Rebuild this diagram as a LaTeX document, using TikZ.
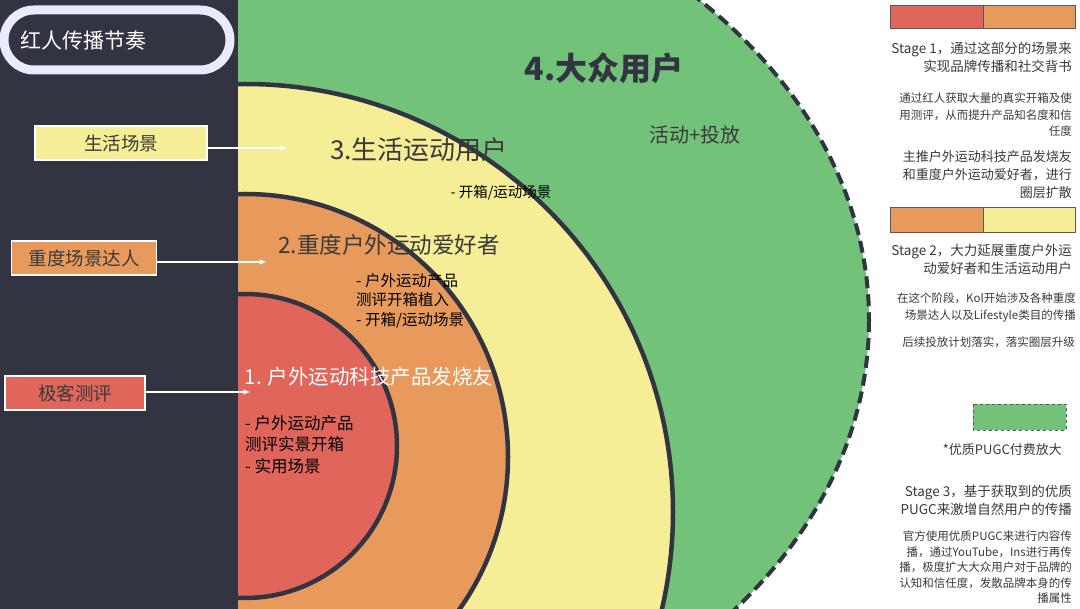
\documentclass[tikz,border=0pt]{standalone}
\usepackage{fontspec}
\usetikzlibrary{arrows.meta}
\setmainfont{Noto Sans CJK SC}
\definecolor{cred}{HTML}{E0655A}
\definecolor{corange}{HTML}{E89A5C}
\definecolor{cyellow}{HTML}{F5EE96}
\definecolor{cgreen}{HTML}{72C27A}
\definecolor{cdark}{HTML}{323541}
\definecolor{ctext}{HTML}{3A3A3A}
\begin{document}
\begin{tikzpicture}[x=1pt,y=-1pt,
  ring/.style={draw=cdark,line width=4.5pt},
  lbl/.style={draw=white,line width=1.5pt,minimum height=34pt,font=\fontsize{18.5}{20}\selectfont,text=ctext,inner sep=0pt},
  arr/.style={white,line width=1.5pt,-{Stealth[length=7pt]}},
  rtxt/.style={align=right,anchor=north east,text=ctext,inner sep=0pt},
  bar/.style={draw=gray!70!black,line width=0.8pt}]
\useasboundingbox (0,0) rectangle (1080,609);
\fill[white] (0,0) rectangle (1080,609);
\begin{scope}
\clip (238,0) rectangle (1080,609);
\fill[cgreen] (245,320) ellipse [x radius=624,y radius=467];
\draw[cdark,line width=4pt,dash pattern=on 12pt off 6pt] (245,320) ellipse [x radius=624,y radius=467];
\filldraw[fill=cyellow,ring] (245,512) circle [radius=428];
\filldraw[fill=corange,ring] (245,457) circle [radius=263];
\filldraw[fill=cred,ring] (245,446) circle [radius=152];
\end{scope}
\fill[cdark] (0,0) rectangle (238,609);
% title
\draw[white!92!blue,line width=9pt,rounded corners=30pt] (4,10) rectangle (230,70);
\node[fill=cdark,rounded corners=13pt,minimum width=206pt,minimum height=38pt,draw=cdark] (title) at (117,40) {};
\node[text=white,font=\fontsize{21}{24}\selectfont,anchor=west] (tt) at (17,41) {红人传播节奏};
% side labels
\node[lbl,fill=cyellow,minimum width=172pt] (l3) at (121,143) {生活场景};
\node[lbl,fill=corange,minimum width=145pt] (l2) at (84,258) {重度场景达人};
\node[lbl,fill=cred,minimum width=140pt] (l1) at (75,393) {极客测评};
\coordinate (a3) at (287,148);
\coordinate (a2) at (266,262);
\coordinate (a1) at (250,392);
\draw[arr] (l3.east|-a3) -- (a3);
\draw[arr] (l2.east|-a2) -- (a2);
\draw[arr] (l1.east|-a1) -- (a1);
% circle texts
\node[text=cdark,font=\fontsize{32}{34}\selectfont\bfseries] (t4) at (604,68) {4.大众用户};
\node[text=ctext,font=\fontsize{20}{22}\selectfont] (t4b) at (695,135) {活动+投放};
\node[text=ctext,font=\fontsize{26}{28}\selectfont] (t3) at (419,150) {3.生活运动用户};
\node[text=black,font=\fontsize{14.5}{16}\selectfont] (t3b) at (501,193) {- 开箱/运动场景};
\node[text=ctext,font=\fontsize{22.5}{24}\selectfont] (t2) at (389,245) {2.重度户外运动爱好者};
\node[text=black,font=\fontsize{15.5}{19.5}\selectfont,align=left,anchor=north west,inner sep=0pt] (t2b) at (356,273) {- 户外运动产品\\测评开箱植入\\- 开箱/运动场景};
\node[text=white,font=\fontsize{20.5}{22}\selectfont] (t1) at (369,377) {1. 户外运动科技产品发烧友};
\node[text=black,font=\fontsize{16.5}{21.5}\selectfont,align=left,anchor=north west,inner sep=0pt] (t1b) at (245,415) {- 户外运动产品\\测评实景开箱\\- 实用场景};
% right panel
\filldraw[fill=cred,bar] (890,5) rectangle (983,28);
\filldraw[fill=corange,bar] (983,5) rectangle (1075,28);
\node[rtxt,font=\fontsize{13.5}{18}\selectfont] (s1) at (1072,42) {Stage 1，通过这部分的场景来\\实现品牌传播和社交背书};
\node[rtxt,font=\fontsize{11.5}{16.5}\selectfont] (s1b) at (1072,93) {通过红人获取大量的真实开箱及使\\用测评，从而提升产品知名度和信\\任度};
\node[rtxt,font=\fontsize{13}{18}\selectfont] (s1c) at (1072,150) {主推户外运动科技产品发烧友\\和重度户外运动爱好者，进行\\圈层扩散};
\filldraw[fill=corange,bar] (890,207) rectangle (983,232);
\filldraw[fill=cyellow,bar] (983,207) rectangle (1075,232);
\node[rtxt,font=\fontsize{13.5}{18}\selectfont] (s2) at (1072,244) {Stage 2，大力延展重度户外运\\动爱好者和生活运动用户};
\node[rtxt,font=\fontsize{11.5}{16.5}\selectfont] (s2b) at (1076,293) {在这个阶段，Kol开始涉及各种重度\\场景达人以及Lifestyle类目的传播};
\node[rtxt,font=\fontsize{11.5}{16}\selectfont] (s2c) at (1075,337) {后续投放计划落实，落实圈层升级};
\filldraw[fill=cgreen,draw=gray!70!black,dashed,line width=0.8pt] (973,404) rectangle (1066,430);
\node[rtxt,font=\fontsize{13}{16}\selectfont] (s3a) at (1062,443) {*优质PUGC付费放大};
\node[rtxt,font=\fontsize{13.5}{18}\selectfont] (s3) at (1072,485) {Stage 3，基于获取到的优质\\PUGC来激增自然用户的传播};
\node[rtxt,font=\fontsize{11.5}{15.5}\selectfont] (s3b) at (1072,531) {官方使用优质PUGC来进行内容传\\播，通过YouTube，Ins进行再传\\播，极度扩大大众用户对于品牌的\\认知和信任度，发散品牌本身的传\\播属性};
\end{tikzpicture}
\end{document}
